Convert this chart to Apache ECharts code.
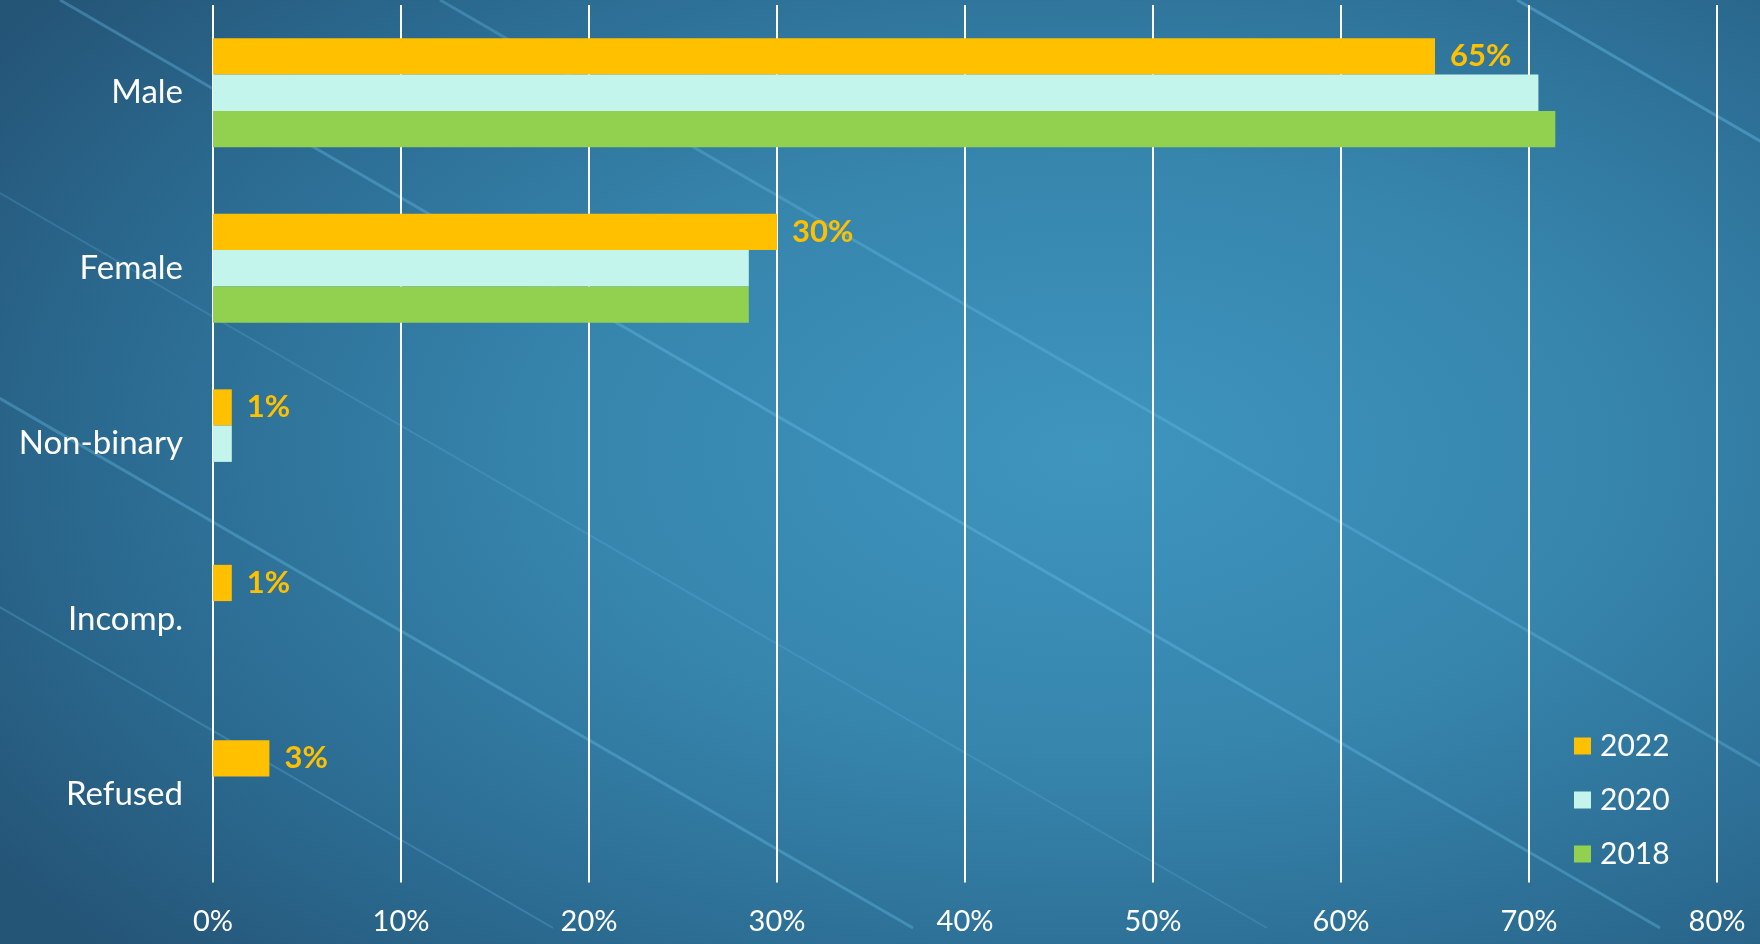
<!DOCTYPE html>
<html>
<head>
<meta charset="utf-8">
<script src="https://cdn.jsdelivr.net/npm/echarts@6/dist/echarts.min.js"></script>
<style>
html, body { margin: 0; padding: 0; }
#wrap {
    position: relative;
    width: 1760px;
    height: 944px;
    overflow: hidden;
    background: radial-gradient(ellipse 75% 80% at 62% 48%, #3e95be 0%, #3685ad 40%, #2b6a90 75%, #245476 100%);
}
#streaks { position: absolute; left: 0; top: 0; }
#chart { position: absolute; left: 0; top: 0; width: 1760px; height: 944px; }
</style>
</head>
<body>
<div id="wrap">
    <!-- background light streaks, decoration only -->
    <svg id="streaks" width="1760" height="944">
        <g stroke="#6cc4ee" fill="none">
            <line x1="1517" y1="0" x2="3117" y2="928" stroke-width="3" stroke-opacity="0.4"/>
            <line x1="440" y1="0" x2="2040" y2="928" stroke-width="3" stroke-opacity="0.3"/>
            <line x1="60" y1="0" x2="1660" y2="928" stroke-width="3" stroke-opacity="0.35"/>
            <line x1="-333" y1="0" x2="1267" y2="928" stroke-width="2" stroke-opacity="0.2"/>
            <line x1="-687" y1="0" x2="913" y2="928" stroke-width="3" stroke-opacity="0.35"/>
            <line x1="-1047" y1="0" x2="553" y2="928" stroke-width="2" stroke-opacity="0.25"/>
        </g>
    </svg>
    <div id="chart"></div>
</div>
<script>
// 数据
let categories = ['Male', 'Female', 'Non-binary', 'Incomp.', 'Refused'];
let years = ['2022', '2020', '2018'];
let data2022 = [65, 30, 1, 1, 3];
let data2020 = [70.5, 28.5, 1, 0, 0];
let data2018 = [71.4, 28.5, 0, 0, 0];
let xTicks = [0, 10, 20, 30, 40, 50, 60, 70, 80];

let font = 'Lato, "Open Sans", sans-serif';

let myChart = echarts.init(document.getElementById('chart'));
let option = {
    backgroundColor: 'transparent',
    color: ['#FFC000', '#C3F5EC', '#92D050'],
    textStyle: { fontFamily: font },
    grid: {
        left: 213,
        right: 43,
        top: 5,
        bottom: 61.5
    },
    legend: {
        data: years,
        orient: 'vertical',
        left: 1569,
        top: 726,
        icon: 'rect',
        itemWidth: 17,
        itemHeight: 17,
        itemGap: 24,
        textStyle: {
            color: '#ffffff',
            fontSize: 30,
            lineHeight: 30,
            fontFamily: font,
            padding: [0, 0, 0, 4]
        }
    },
    xAxis: {
        type: 'value',
        min: xTicks[0],
        max: xTicks[xTicks.length - 1],
        interval: 10,
        axisLine: { show: false },
        axisTick: { show: false },
        splitLine: { lineStyle: { color: '#ffffff', width: 2 } },
        axisLabel: {
            color: '#ffffff',
            fontSize: 29,
            fontFamily: font,
            margin: 25,
            formatter: '{value}%'
        }
    },
    yAxis: {
        type: 'category',
        inverse: true,
        data: categories,
        axisLine: { show: false },
        axisTick: { show: false },
        axisLabel: {
            color: '#ffffff',
            fontSize: 33,
            fontFamily: font,
            margin: 30
        }
    },
    series: [
        {
            name: years[0],
            type: 'bar',
            data: data2022,
            barGap: '0%',
            barCategoryGap: '38%',
            label: {
                show: true,
                position: 'right',
                distance: 15,
                color: '#FFC000',
                fontWeight: 'bold',
                fontSize: 31,
                fontFamily: font,
                formatter: '{c}%'
            }
        },
        {
            name: years[1],
            type: 'bar',
            data: data2020,
            barGap: '0%',
            barCategoryGap: '38%'
        },
        {
            name: years[2],
            type: 'bar',
            data: data2018,
            barGap: '0%',
            barCategoryGap: '38%'
        }
    ]
};
myChart.setOption(option);
</script>
</body>
</html>
